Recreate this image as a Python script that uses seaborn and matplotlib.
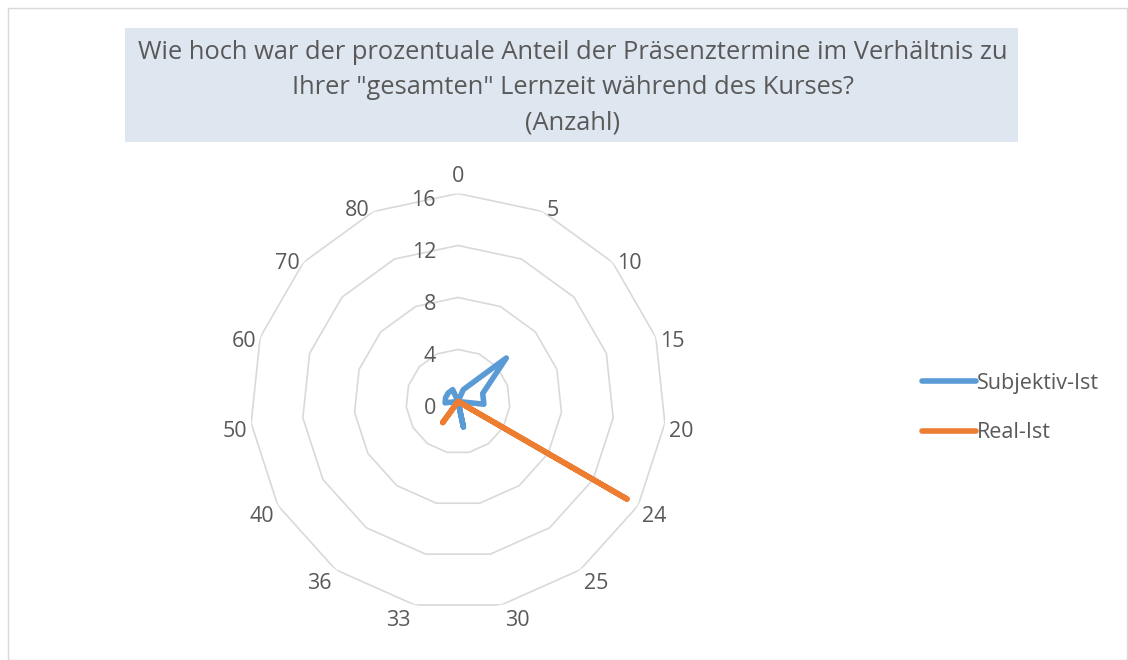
import numpy as np
import pandas as pd
import matplotlib
matplotlib.use('Agg')
import matplotlib.pyplot as plt
import matplotlib.transforms as mtransforms
from matplotlib.patches import Rectangle
from matplotlib.lines import Line2D
import seaborn as sns

# Kategorien (Prozentanteil Präsenztermine)
categories = ['0', '5', '10', '15', '20', '24', '25', '30', '33', '36', '40', '50', '60', '70', '80']
subjektiv_ist = [0, 1, 5, 2, 2, 0, 0, 2, 0, 0, 0, 1, 1, 1, 1]
real_ist = [0, 0, 0, 0, 0, 15, 0, 0, 0, 2, 0, 0, 0, 0, 0]
series_names = ['Subjektiv-Ist', 'Real-Ist']
r_ticks = [0, 4, 8, 12, 16]

title = ('Wie hoch war der prozentuale Anteil der Präsenztermine im Verhältnis zu\n'
         'Ihrer "gesamten" Lernzeit während des Kurses?\n(Anzahl)')

sns.set_theme(style='white')
plt.rcParams['font.family'] = ['Open Sans', 'DejaVu Sans']

text_col = '#595959'
grid_col = '#D9D9D9'
colors = {'Subjektiv-Ist': '#5B9BD5', 'Real-Ist': '#ED7D31'}
fs = 15.5

W, H = 1128, 660
fig = plt.figure(figsize=(W / 100, H / 100), dpi=100)

# Rahmen + Titelbox
fig.patches.append(Rectangle((8 / W, 0), (W - 9) / W, (H - 8) / H, transform=fig.transFigure,
                             fill=False, edgecolor=grid_col, lw=1))
fig.patches.append(Rectangle((125 / W, 1 - 142 / H), (1018 - 125) / W, (142 - 28) / H,
                             transform=fig.transFigure, facecolor='#DEE6F0', edgecolor='none'))
fig.text(573 / W, 1 - 88 / H, title, ha='center', va='center', fontsize=18.4,
         color=text_col, linespacing=1.55)

# Radar-Achse
cx, cy, R = 458, 401.5, 208
ax = fig.add_axes([(cx - R) / W, (H - cy - R) / H, 2 * R / W, 2 * R / H], projection='polar')
ax.set_theta_zero_location('N')
ax.set_theta_direction(-1)
ax.set_ylim(0, 16)
ax.grid(False)
ax.set_xticks([])
ax.set_yticks([])
ax.spines['polar'].set_visible(False)
ax.set_facecolor('none')

n = len(categories)
angles = np.linspace(0, 2 * np.pi, n, endpoint=False)
closed = np.append(angles, 2 * np.pi)

for r in r_ticks[1:]:
    ax.plot(closed, [r] * (n + 1), color=grid_col, lw=1.2, zorder=1)

rows = []
for name, vals in zip(series_names, [subjektiv_ist, real_ist]):
    for a, v in zip(closed, vals + vals[:1]):
        rows.append({'theta': a, 'wert': v, 'serie': name})
df = pd.DataFrame(rows)

sns.lineplot(data=df, x='theta', y='wert', hue='serie', palette=colors, sort=False,
             estimator=None, lw=4.0, ax=ax, legend=False, zorder=3,
             solid_capstyle='round', solid_joinstyle='round')
ax.set_xlabel('')
ax.set_ylabel('')

# Kategorie-Beschriftungen (Excel-artig am Eckpunkt verankert)
for a, lab in zip(angles, categories):
    s, c = np.sin(a), np.cos(a)
    if abs(s) < 1e-6:
        tr = mtransforms.offset_copy(ax.transData, fig=fig, x=0, y=16.5, units='dots')
        ha = 'center'
    else:
        tr = mtransforms.offset_copy(ax.transData, fig=fig, x=4 * np.sign(s), y=8.5 * c - 7,
                                     units='dots')
        ha = 'left' if s > 0 else 'right'
    ax.text(a, 16, lab, transform=tr, ha=ha, va='center', fontsize=fs, color=text_col)

# Radiale Beschriftungen
off = mtransforms.offset_copy(ax.transData, fig=fig, x=-22, y=-7, units='dots')
for r in r_ticks:
    ax.text(0, r, str(r), transform=off, ha='right', va='center', fontsize=fs, color=text_col)

handles = [Line2D([], [], color=colors[s], lw=4.0, solid_capstyle='round') for s in series_names]
fig.legend(handles, series_names, loc='center left', bbox_to_anchor=(922 / W, 1 - 408 / H),
           frameon=False, fontsize=fs, handlelength=2.5, handletextpad=0.05,
           labelspacing=1.34, labelcolor=text_col, borderpad=0, borderaxespad=0)

fig.savefig('out.png', dpi=100)
